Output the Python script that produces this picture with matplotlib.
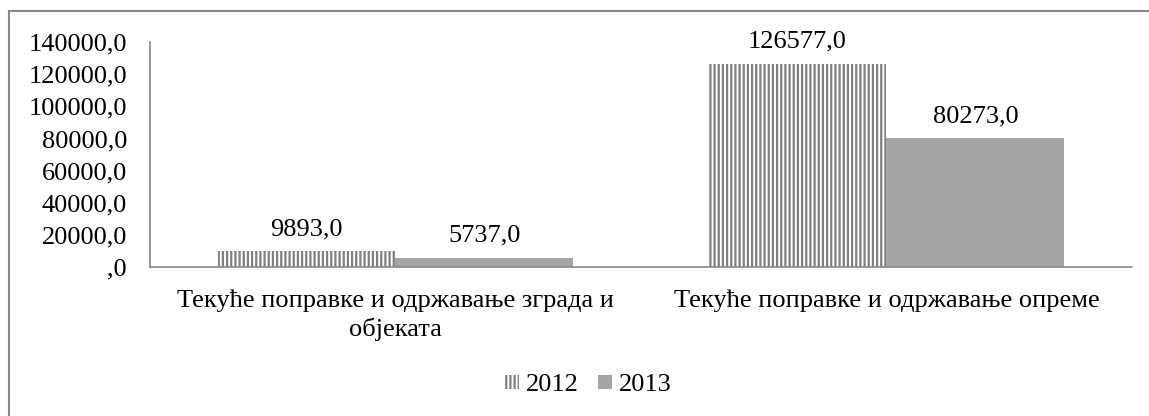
import numpy as np
import matplotlib
matplotlib.use("Agg")
import matplotlib.pyplot as plt
from matplotlib.patches import Rectangle
from matplotlib.ticker import FuncFormatter

plt.rcParams['font.family'] = ['Liberation Serif', 'DejaVu Serif']
plt.rcParams['hatch.linewidth'] = 1.6

categories = ['Текуће поправке и одржавање зграда и\nобјеката',
              'Текуће поправке и одржавање опреме']
years = ['2012', '2013']
values_2012 = [9893.0, 126577.0]
values_2013 = [5737.0, 80273.0]


def fmt(v):
    s = f"{v:.1f}".replace('.', ',')
    if s.startswith('0,'):
        s = s[1:]
    return s


fig = plt.figure(figsize=(11.49, 4.16), dpi=100)
ax = fig.add_axes([0.1305, 0.358, 0.8547, 0.541])

x = np.arange(len(categories))
w = 0.362
b1 = ax.bar(x - w / 2, values_2012, w, facecolor='white', edgecolor='#7f7f7f',
            hatch='||||', linewidth=0, label=years[0])
b2 = ax.bar(x + w / 2, values_2013, w, color='#a5a5a5', linewidth=0, label=years[1])

for bars in (b1, b2):
    for r in bars:
        ax.annotate(fmt(r.get_height()), (r.get_x() + r.get_width() / 2, r.get_height()),
                    xytext=(0, 11.5), textcoords='offset points',
                    ha='center', va='baseline', fontsize=19)

ax.set_xlim(-0.5, 1.5)
ax.set_ylim(0, 140000)
ax.set_yticks(np.arange(0, 140001, 20000))
ax.yaxis.set_major_formatter(FuncFormatter(lambda v, p: fmt(v)))
ax.set_xticks(x)
ax.set_xticklabels(categories, fontsize=19, linespacing=1.3)
ax.tick_params(axis='y', length=0, labelsize=19, pad=16.5)
ax.tick_params(axis='x', length=0, pad=16)
for side in ('top', 'right'):
    ax.spines[side].set_visible(False)
for side in ('left', 'bottom'):
    ax.spines[side].set_color('#898989')
    ax.spines[side].set_linewidth(1.2)

fig.legend(loc='center', bbox_to_anchor=(0.512, 0.074), ncol=2, frameon=False,
           fontsize=19, handlelength=0.54, handleheight=0.46, handletextpad=0.27,
           columnspacing=0.73)

fig.patches.append(Rectangle((9 / 1149, -0.1), 1.2, 1.1 - 11 / 416,
                             transform=fig.transFigure, fill=False,
                             edgecolor='#898989', linewidth=1.5))

fig.savefig('out.png', dpi=100)
